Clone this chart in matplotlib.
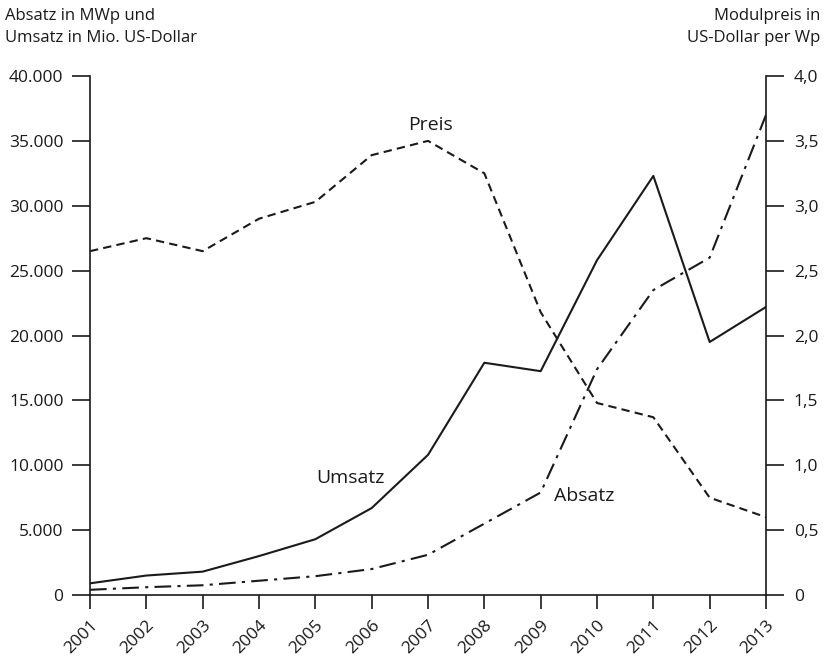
import matplotlib
matplotlib.use("Agg")
import matplotlib.pyplot as plt
from matplotlib.ticker import FixedLocator, FuncFormatter

years = list(range(2001, 2014))
umsatz = [900, 1500, 1800, 3000, 4300, 6700, 10800, 17900, 17250, 25800, 32300, 19500, 22200]
absatz = [400, 600, 750, 1100, 1450, 2000, 3100, 5500, 7900, 17400, 23500, 26000, 37000]
preis = [2.65, 2.75, 2.65, 2.9, 3.03, 3.39, 3.5, 3.25, 2.18, 1.48, 1.37, 0.75, 0.6]

left_ticks = [0, 5000, 10000, 15000, 20000, 25000, 30000, 35000, 40000]
right_ticks = [0, 0.5, 1.0, 1.5, 2.0, 2.5, 3.0, 3.5, 4.0]

plt.rcParams['font.family'] = ['Open Sans', 'DejaVu Sans']
fs = 12
lfs = 14
col = '#1a1a1a'

fig = plt.figure(figsize=(8.25, 6.59), dpi=100)
ax = fig.add_axes([90/825, 1-595/659, (766-90)/825, (595-76)/659])
ax2 = ax.twinx()

ax.plot(years, umsatz, color=col, lw=1.5, ls='-')
ax.plot(years, absatz, color=col, lw=1.5, ls=(0, (8, 3, 1.5, 3)))
ax2.plot(years, preis, color=col, lw=1.5, ls=(0, (4, 2.5)))

ax.set_xlim(2001, 2013)
ax.set_ylim(0, 40000)
ax2.set_ylim(0, 4.0)

ax.yaxis.set_major_locator(FixedLocator(left_ticks))
ax.yaxis.set_major_formatter(FuncFormatter(lambda v, p: '0' if v == 0 else f"{int(v):,}".replace(',', '.')))
ax2.yaxis.set_major_locator(FixedLocator(right_ticks))
ax2.yaxis.set_major_formatter(FuncFormatter(lambda v, p: '0' if v == 0 else f"{v:.1f}".replace('.', ',')))
ax.xaxis.set_major_locator(FixedLocator(years))
ax.set_xticklabels([str(y) for y in years], rotation=45, ha='right', rotation_mode='anchor')

for a in (ax, ax2):
    a.spines['top'].set_visible(False)
    for s in a.spines.values():
        s.set_color(col)
        s.set_linewidth(1.2)
ax.spines['right'].set_visible(False)
ax2.spines['left'].set_visible(False)
ax2.spines['bottom'].set_visible(False)

ax.tick_params(axis='y', direction='out', length=13, width=1.2, colors=col, labelsize=12.5, pad=6)
ax.tick_params(axis='x', direction='out', length=10, width=1.2, colors=col, labelsize=12.5, pad=6)
ax2.tick_params(axis='y', direction='out', length=13, width=1.2, colors=col, labelsize=12.5, pad=7)

fig.text(5/825, 1-16/659, 'Absatz in MWp und', fontsize=fs, color=col, ha='left', va='center')
fig.text(5/825, 1-38/659, 'Umsatz in Mio. US-Dollar', fontsize=fs, color=col, ha='left', va='center')
fig.text(820/825, 1-16/659, 'Modulpreis in', fontsize=fs, color=col, ha='right', va='center')
fig.text(820/825, 1-38/659, 'US-Dollar per Wp', fontsize=fs, color=col, ha='right', va='center')

ax2.text(2007.05, 3.62, 'Preis', fontsize=lfs, color=col, ha='center', va='center')
ax.text(2005.62, 9000, 'Umsatz', fontsize=lfs, color=col, ha='center', va='center')
ax.text(2009.77, 7600, 'Absatz', fontsize=lfs, color=col, ha='center', va='center')

fig.savefig('out.png', dpi=100)
